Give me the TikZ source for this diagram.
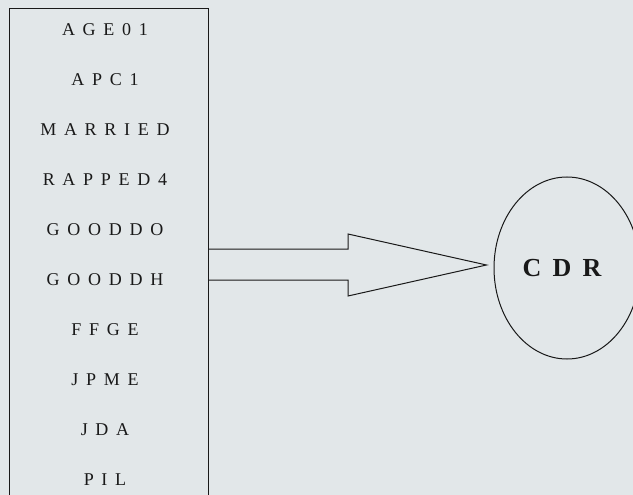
\documentclass[tikz,border=0pt]{standalone}
\usepackage{fontspec}
\setmainfont{Liberation Serif}
\newfontfamily\spacedfont[LetterSpace=43]{Liberation Serif}
\usetikzlibrary{positioning, shapes.geometric, calc}
\definecolor{paper}{RGB}{226,231,233}
\definecolor{ink}{RGB}{25,25,25}

\begin{document}
\begin{tikzpicture}[x=1pt, y=-1pt, line width=1pt,
	varlabel/.style={anchor=base, text=ink, font=\spacedfont\fontsize{18}{18}\selectfont},
	target/.style={ellipse, draw=ink, minimum width=146pt, minimum height=182pt, inner sep=0pt,
		text=ink, font=\spacedfont\bfseries\fontsize{26}{26}\selectfont}]
	
	% background
	\fill[paper] (0,0) rectangle (633,495);
	\useasboundingbox (0,0) rectangle (633,495);
	
	% variable column
	\draw[ink] (9,495) -- (9,9) -- (208,9) -- (208,495);
	\foreach \name [count=\i from 0] in {AGE01, APC1, MARRIED, RAPPED4, GOODDO, GOODDH, FFGE, JPME, JDA, PIL}
		\node[varlabel] (v\i) at (105, 36+49.9*\i) {\name};
	
	% CDR
	\node[target] (cdr) at (567,268) {\hspace*{-10pt}CDR};
	
	% big arrow
	\coordinate (tail) at (208,264.5);
	\coordinate (tip) at ($(cdr.west)+(-7,-3)$);
	\draw[ink, line join=miter] ($(tail)+(0,-15.5)$) -- ++(140,0) -- ++(0,-15) -- (tip)
		-- ($(tail)+(140,31.5)$) -- ++(0,-16) -- ($(tail)+(0,15.5)$);
	
\end{tikzpicture}
\end{document}
